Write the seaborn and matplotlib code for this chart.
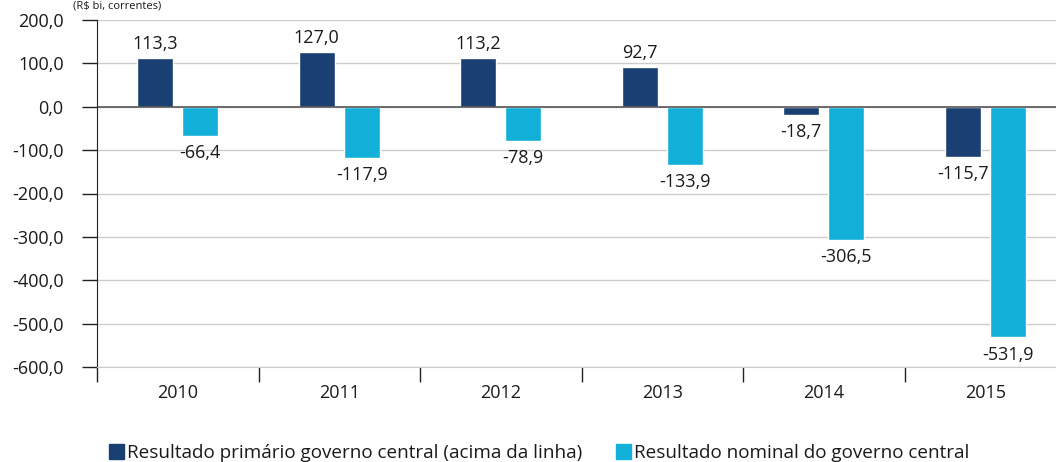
import pandas as pd
import numpy as np
import matplotlib
matplotlib.use('Agg')
import matplotlib.pyplot as plt
from matplotlib.patches import Patch
from matplotlib.ticker import FuncFormatter, FixedLocator
import seaborn as sns

anos = ['2010', '2011', '2012', '2013', '2014', '2015']
primario = [113.3, 127.0, 113.2, 92.7, -18.7, -115.7]
nominal = [-66.4, -117.9, -78.9, -133.9, -306.5, -531.9]
serie_primario = 'Resultado primário governo central (acima da linha)'
serie_nominal = 'Resultado nominal do governo central'
cores = ['#1a3f73', '#12b0d8']

df = pd.DataFrame({
    'ano': anos * 2,
    'valor': primario + nominal,
    'serie': [serie_primario] * len(anos) + [serie_nominal] * len(anos),
})

sns.set_style('white')
plt.rcParams['font.family'] = ['Open Sans', 'DejaVu Sans']
fs = 13

fig = plt.figure(figsize=(10.56, 4.62), dpi=100)
ax = fig.add_axes([97 / 1056, 1 - 367 / 462, (1066 - 97) / 1056, (367 - 20) / 462])

sns.barplot(data=df, x='ano', y='valor', hue='serie', palette=cores,
            width=0.56, gap=0.2, ax=ax, legend=False, saturation=1)

# rótulos: positivos acima, negativos abaixo (um pouco mais afastados)
fmt = lambda v: f'{v:.1f}'.replace('.', ',')
for cont in ax.containers:
    alturas = [b.get_height() for b in cont]
    ax.bar_label(cont, labels=[fmt(h) if h >= 0 else '' for h in alturas], padding=3,
                 fontsize=fs, color='#1a1a1a')
    ax.bar_label(cont, labels=[fmt(h) if h < 0 else '' for h in alturas], padding=6,
                 fontsize=fs, color='#1a1a1a')

ax.set_ylim(-600, 200)
ax.set_xlim(-0.5, 5.5)
ax.set_yticks(np.arange(-600, 201, 100))
ax.yaxis.set_major_formatter(FuncFormatter(lambda v, p: fmt(v)))
ax.yaxis.grid(True, color='#cccccc', linewidth=1)
ax.set_axisbelow(True)
ax.axhline(0, color='#555555', linewidth=1.2, zorder=1)

ax.xaxis.set_minor_locator(FixedLocator(np.arange(-0.5, 6, 1)))
ax.tick_params(axis='x', which='major', length=0, pad=12, labelsize=fs, labelcolor='#1a1a1a')
ax.tick_params(axis='x', which='minor', length=11, width=1, color='#222222', direction='out', bottom=True)
ax.tick_params(axis='y', length=11, width=1, color='#222222', direction='out', left=True,
               labelsize=fs, labelcolor='#1a1a1a', pad=13)

ax.set_xlabel('')
ax.set_ylabel('')
for s in ['top', 'right']:
    ax.spines[s].set_visible(False)
ax.spines['left'].set_color('#222222')
ax.spines['bottom'].set_color('#cccccc')

fig.text(73 / 1056, 1.0, '(R$ bi, correntes)', fontsize=8, color='#1a1a1a', va='top')

handles = [Patch(color=cores[0], label=serie_primario), Patch(color=cores[1], label=serie_nominal)]
fig.legend(handles=handles, loc='center', bbox_to_anchor=(539 / 1056, 1 - 453 / 462), ncol=2,
           frameon=False, fontsize=13.6, handlelength=0.8, handleheight=0.8,
           handletextpad=0.15, columnspacing=1.8, labelcolor='#1a1a1a', borderpad=0)

fig.savefig('out.png', dpi=100)
